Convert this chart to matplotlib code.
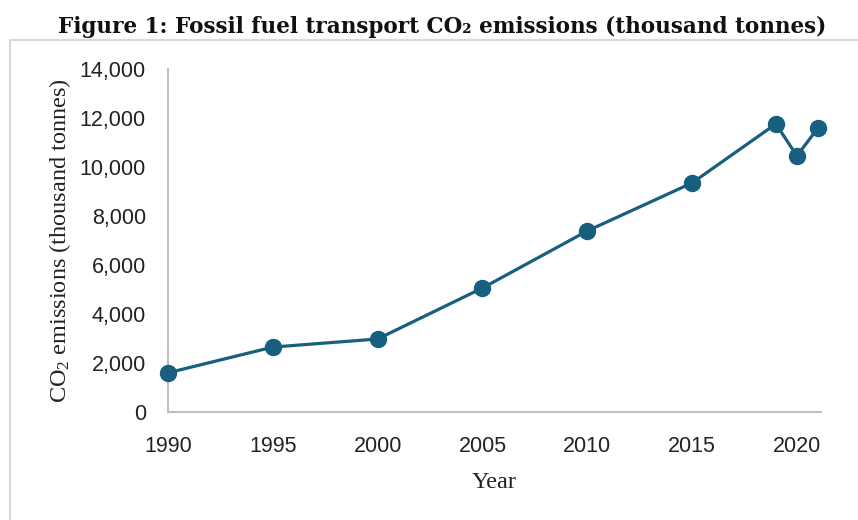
import matplotlib
matplotlib.use("Agg")
import matplotlib.pyplot as plt
from matplotlib.patches import Rectangle

years = [1990, 1995, 2000, 2005, 2010, 2015, 2019, 2020, 2021]
emissions = [1600, 2650, 2980, 5060, 7390, 9350, 11760, 10450, 11590]
x_ticks = [1990, 1995, 2000, 2005, 2010, 2015, 2020]
y_ticks = [0, 2000, 4000, 6000, 8000, 10000, 12000, 14000]

plt.rcParams['mathtext.fontset'] = 'custom'
plt.rcParams['mathtext.rm'] = 'Liberation Serif'
plt.rcParams['mathtext.it'] = 'Liberation Serif:italic'

fig = plt.figure(figsize=(8.58, 5.20), dpi=100)
ax = fig.add_axes([168/858, 1-412/520, (821-168)/858, (412-69)/520])

# outer frame
fig.patches.append(Rectangle((10/858, -0.1), 1.0, 1-40/520+0.1, transform=fig.transFigure,
                             fill=False, edgecolor='#d9d9d9', linewidth=1.5, clip_on=False))

color = '#175E7F'
ax.plot(years, emissions, color=color, linewidth=2.3, marker='o', markersize=11.5, zorder=3,
        clip_on=False)

ax.set_xlim(1990, 2021.15)
ax.set_ylim(0, 14000)
ax.set_xticks(x_ticks)
ax.set_yticks(y_ticks)
ax.set_yticklabels([f"{v:,}" for v in y_ticks])
ax.set_xticklabels([str(v) for v in x_ticks])
for lab in ax.get_xticklabels() + ax.get_yticklabels():
    lab.set_fontfamily('Liberation Sans')
    lab.set_fontsize(15.5)
    lab.set_color('#222222')
ax.tick_params(axis='both', length=0)
ax.tick_params(axis='y', pad=16)
ax.tick_params(axis='x', pad=17)

for s in ['top', 'right']:
    ax.spines[s].set_visible(False)
for s in ['left', 'bottom']:
    ax.spines[s].set_color('#bfbfbf')
    ax.spines[s].set_linewidth(1.5)

ax.set_xlabel('Year', fontfamily='Liberation Serif', fontsize=17.5, color='#222222', labelpad=11)
ax.set_ylabel('CO$_2$ emissions (thousand tonnes)', fontfamily='Liberation Serif', fontsize=17.5,
              color='#222222', labelpad=5)

fig.text(442/858, 1-33/520, 'Figure 1: Fossil fuel transport CO\u2082 emissions (thousand tonnes)',
         ha='center', va='baseline', fontfamily=['DejaVu Serif'],
         fontweight='bold', fontsize=15.5, color='#111111')

fig.savefig('out.png', dpi=100)
